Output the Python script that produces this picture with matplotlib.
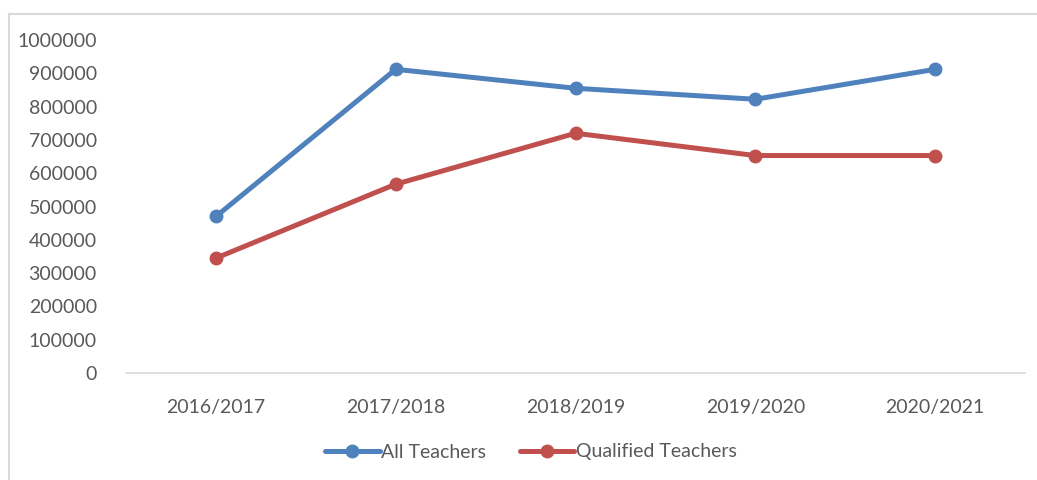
import matplotlib
matplotlib.use('Agg')
import matplotlib.pyplot as plt
from matplotlib.lines import Line2D

# data
years = ['2016/2017', '2017/2018', '2018/2019', '2019/2020', '2020/2021']
all_teachers = [470000, 912000, 855000, 822000, 912000]
qualified_teachers = [345000, 567000, 720000, 653000, 653000]

plt.rcParams['font.family'] = ['Lato', 'DejaVu Sans']
text_col = '#595959'

fig = plt.figure(figsize=(10.37, 4.8), dpi=100)
ax = fig.add_axes([126/1037, 107/480, (1025-126)/1037, 333/480])

x = list(range(len(years)))
ax.plot(x, all_teachers, color='#4F81BD', lw=3.6, marker='o', ms=9,
        solid_capstyle='round', label='All Teachers')
ax.plot(x, qualified_teachers, color='#C0504D', lw=3.6, marker='o', ms=9,
        solid_capstyle='round', label='Qualified Teachers')

ax.set_xlim(-0.5, 4.5)
ax.set_ylim(0, 1000000)
ax.set_yticks(range(0, 1000001, 100000))
ax.set_yticklabels([str(v) for v in range(0, 1000001, 100000)])
ax.set_xticks(x)
ax.set_xticklabels(years)
ax.tick_params(axis='both', length=0, labelsize=14, labelcolor=text_col)
ax.tick_params(axis='x', pad=19)
ax.tick_params(axis='y', pad=21)

for side in ['top', 'right', 'left']:
    ax.spines[side].set_visible(False)
ax.spines['bottom'].set_color('#D9D9D9')
ax.spines['bottom'].set_linewidth(1.2)

leg = fig.legend(loc='center', bbox_to_anchor=(0.512, 1 - 452/480), ncol=2,
                 frameon=False, fontsize=14, handlelength=2.8,
                 handletextpad=0.1, columnspacing=1.7)
for t in leg.get_texts():
    t.set_color(text_col)

# outer chart border: only the top and left edges show in the crop
bx, by = 8.5/1037, 1 - 13.5/480
fig.add_artist(Line2D([bx, 1], [by, by], transform=fig.transFigure,
                      color='#D9D9D9', lw=1.5))
fig.add_artist(Line2D([bx, bx], [0, by], transform=fig.transFigure,
                      color='#D9D9D9', lw=1.5))

fig.savefig('out.png', dpi=100)
